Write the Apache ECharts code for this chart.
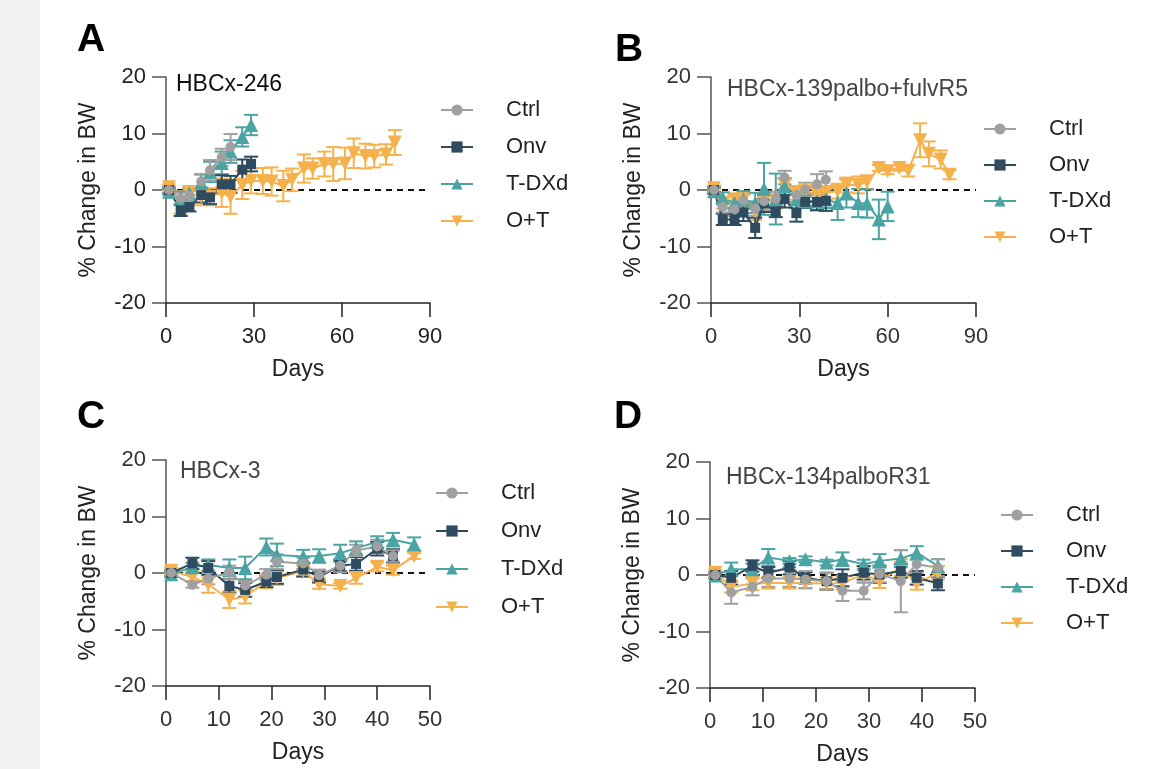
<!DOCTYPE html>
<html>
<head>
<meta charset="utf-8">
<script src="https://cdn.jsdelivr.net/npm/echarts@6/dist/echarts.min.js"></script>
<style>
html,body{margin:0;padding:0;background:#fff;}
#strip{position:absolute;left:0;top:0;width:40px;height:769px;background:#f1f1f1;}
#chart{position:absolute;left:0;top:0;width:1170px;height:769px;}
</style>
</head>
<body>
<div id="strip"></div>
<div id="chart"></div>
<script>
// ---------- data ----------
const groupNames = ['Ctrl', 'Onv', 'T-DXd', 'O+T'];
const panelLetters = ['A', 'B', 'C', 'D'];
const panelTitles = ['HBCx-246', 'HBCx-139palbo+fulvR5', 'HBCx-3', 'HBCx-134palboR31'];
const yTicks = [-20, -10, 0, 10, 20];

// Panel A
const A_days = [1,5,8,12,15,19,22,26,29,33,36,40,43,47,50,54,57,61,64,68,71,75,78];
const A_ctrl = [0,-1.5,-1.0,1.5,3.5,5.8,7.6];
const A_ctrl_err = [0.5,1.0,1.0,1.2,1.8,1.5,2.3];
const A_onv = [0,-3.6,-3.0,-0.9,-1.3,1.0,1.0,3.6,4.6];
const A_onv_err = [0.5,1.0,0.8,1.3,1.2,1.6,1.5,1.8,1.3];
const A_tdxd = [-0.3,-1.5,-0.6,1.3,3.2,4.8,6.8,9.4,11.5];
const A_tdxd_err = [0.5,1.2,1.0,1.5,1.8,2.0,2.0,1.7,1.8];
const A_ot = [0.5,-2.2,-0.5,-1.2,-1.2,-0.5,-1.2,0.9,1.6,1.6,1.5,0.7,1.8,3.8,3.8,4.6,4.6,4.7,6.5,6.0,6.0,6.3,8.4];
const A_ot_err = [0.5,2.0,1.2,1.5,1.5,2.5,3.0,2.5,2.2,2.3,2.5,2.7,2.0,2.5,1.8,2.2,3.0,2.8,2.6,2.2,2.0,1.8,2.2];

// Panel B
const B_days = [1,4,8,11,15,18,22,25,29,32,36,39,43,46,50,53,57,60,64,67,71,74,78,81];
const B_ctrl = [0,-3.0,-3.4,-1.8,-3.3,-2.0,-1.5,2.2,-0.9,0.1,1.0,1.8];
const B_ctrl_err = [0.5,1.0,1.2,1.0,1.3,1.5,1.2,1.2,1.2,1.2,1.8,1.5];
const B_onv = [0,-5.2,-5.2,-4.0,-6.7,-2.4,-3.8,-1.6,-4.1,-2.1,-2.1,-1.9];
const B_onv_err = [0.5,1.0,1.0,1.5,1.8,1.5,1.0,1.5,1.5,1.0,1.5,1.8];
const B_tdxd = [-0.2,-1.4,-2.3,-1.7,-2.3,0.2,-1.6,0.6,-1.7,-2.0,-2.0,-1.7,-2.3,-0.6,-2.3,-2.4,-5.2,-2.9];
const B_tdxd_err = [0.5,1.0,1.5,1.5,1.8,4.6,4.5,1.5,1.5,1.2,1.5,1.5,3.0,2.5,2.5,2.5,3.5,2.6];
const B_ot = [0.3,-2.3,-1.8,-1.7,-3.8,-2.2,-1.8,0.9,-0.5,-0.2,-0.8,-0.5,-0.2,0.9,0.9,1.4,3.9,3.3,3.9,3.4,8.8,6.4,5.4,2.7];
const B_ot_err = [0.5,1.0,1.2,1.2,1.5,1.5,1.5,1.0,1.2,1.0,1.2,1.2,1.3,1.3,1.5,1.2,0.5,0.5,0.5,1.0,3.0,2.2,1.6,0.8];

// Panel C
const C_days = [1,5,8,12,15,19,21,26,29,33,36,40,43,47];
const C_ctrl = [0,-2.1,-1.0,0.1,-2.2,-0.3,2.0,1.7,-0.4,1.3,4.0,4.7,3.0];
const C_ctrl_err = [0.5,0.5,1.0,1.2,0.8,1.0,1.3,1.0,1.0,1.2,1.0,1.2,1.0];
const C_onv = [0,1.7,0.9,-2.3,-3.0,-1.5,-0.7,0.6,-0.7,1.3,1.6,4.3,3.0];
const C_onv_err = [0.5,1.0,1.2,1.2,1.2,1.0,1.2,1.2,1.0,1.0,1.2,1.2,1.2];
const C_tdxd = [-0.2,1.0,1.4,0.9,0.9,4.6,3.2,2.9,3.0,3.5,4.4,5.5,5.9,5.1];
const C_tdxd_err = [0.5,0.8,1.0,1.5,2.0,1.5,2.0,1.2,1.2,1.5,1.2,1.0,1.2,1.2];
const C_ot = [0.4,-0.7,-2.0,-4.7,-4.2,-1.5,-0.9,0.3,-2.0,-2.3,-0.9,1.1,0.5,3.0];
const C_ot_err = [0.5,0.7,1.5,1.5,1.2,1.2,1.2,1.0,0.8,0.5,1.0,0.8,0.8,0.5];

// Panel D
const D_days = [1,4,8,11,15,18,22,25,29,32,36,39,43];
const D_ctrl = [0,-3.1,-2.1,-0.6,-0.6,-0.8,-1.1,-2.8,-2.8,0.2,-1.1,1.9,1.3];
const D_ctrl_err = [0.5,2.0,1.5,1.5,1.5,1.5,1.5,1.8,1.5,1.5,5.5,1.5,1.5];
const D_onv = [0,-0.5,1.6,0.4,1.3,-0.5,-1.1,-0.5,0.4,0.1,0.7,-0.5,-1.5];
const D_onv_err = [0.5,1.2,1.0,1.0,1.2,1.0,1.5,1.5,1.2,1.5,1.2,1.2,1.2];
const D_tdxd = [-0.1,1.0,1.0,3.1,2.5,2.8,2.2,2.8,1.9,2.5,2.9,3.9,1.6];
const D_tdxd_err = [0.5,1.2,1.0,1.5,0.5,0.5,0.5,1.2,0.8,1.2,1.5,1.2,1.2];
const D_ot = [0.4,-2.1,-1.5,-1.4,-1.4,-1.4,-1.5,-1.4,0.1,-1.1,1.3,-1.6,0.4];
const D_ot_err = [0.5,1.0,1.2,1.0,1.0,1.0,1.0,1.2,1.5,1.2,1.5,1.0,1.2];

const xMax = [90, 90, 50, 50];
const xInterval = [30, 30, 10, 10];

// ---------- styling ----------
const FONT = 'Liberation Sans, Arial, sans-serif';
const colors = {'Ctrl':'#a0a0a0','Onv':'#2f4b60','T-DXd':'#4aa4a3','O+T':'#f5b24c'};
const symbols = {'Ctrl':'circle','Onv':'rect','T-DXd':'triangle','O+T':'path://M0,0 L10,0 L5,10 Z'};
const symSize = {'Ctrl':10,'Onv':10,'T-DXd':14,'O+T':14};

const panels = [
  {days:A_days, data:{'Ctrl':[A_ctrl,A_ctrl_err],'Onv':[A_onv,A_onv_err],'T-DXd':[A_tdxd,A_tdxd_err],'O+T':[A_ot,A_ot_err]}},
  {days:B_days, data:{'Ctrl':[B_ctrl,B_ctrl_err],'Onv':[B_onv,B_onv_err],'T-DXd':[B_tdxd,B_tdxd_err],'O+T':[B_ot,B_ot_err]}},
  {days:C_days, data:{'Ctrl':[C_ctrl,C_ctrl_err],'Onv':[C_onv,C_onv_err],'T-DXd':[C_tdxd,C_tdxd_err],'O+T':[C_ot,C_ot_err]}},
  {days:D_days, data:{'Ctrl':[D_ctrl,D_ctrl_err],'Onv':[D_onv,D_onv_err],'T-DXd':[D_tdxd,D_tdxd_err],'O+T':[D_ot,D_ot_err]}}
];

const grids = [
  {left:166, top:77, width:264, height:226},
  {left:711, top:77, width:265, height:226},
  {left:166, top:460, width:264, height:226},
  {left:710, top:462, width:265, height:226}
];
const letterPos = [[77,21],[615,31],[77,398],[614,398]];
const subPos = [[176,73],[727,78],[180,460],[726,466]];
const legendPos = [[440,99,15],[983,118,14],[435,482,16],[1000,504,14]];
const tickColor = ['#222','#333','#333','#333'];

function errRender(color){
  return function(params, api){
    const x = api.value(0), lo = api.value(1), hi = api.value(2);
    const pt = api.coord([x, hi]), pb = api.coord([x, lo]);
    const w = 7;
    const st = {stroke: color, lineWidth: 2};
    return {type:'group', children:[
      {type:'line', shape:{x1:pt[0],y1:pt[1],x2:pb[0],y2:pb[1]}, style:st},
      {type:'line', shape:{x1:pt[0]-w,y1:pt[1],x2:pt[0]+w,y2:pt[1]}, style:st},
      {type:'line', shape:{x1:pb[0]-w,y1:pb[1],x2:pb[0]+w,y2:pb[1]}, style:st}
    ]};
  };
}

const option = {
  animation:false,
  backgroundColor:'transparent',
  textStyle:{fontFamily:FONT},
  grid: grids,
  xAxis: grids.map((g,i)=>({
    gridIndex:i, type:'value', min:0, max:xMax[i], interval:xInterval[i],
    name:'Days', nameLocation:'middle', nameGap:55,
    nameTextStyle:{fontSize:23, color:'#222', fontFamily:FONT},
    axisLine:{onZero:false, lineStyle:{color:'#222', width:1.5}},
    axisTick:{length:14, lineStyle:{color:'#222', width:1.5}},
    axisLabel:{fontSize:22, color:tickColor[i], margin:23, fontFamily:FONT},
    splitLine:{show:false}
  })),
  yAxis: grids.map((g,i)=>({
    gridIndex:i, type:'value', min:yTicks[0], max:yTicks[yTicks.length-1], interval:10,
    name:'% Change in BW', nameLocation:'middle', nameGap:66,
    nameTextStyle:{fontSize:23, color:'#222', fontFamily:FONT},
    axisLine:{show:true, lineStyle:{color:'#555', width:1.5}},
    axisTick:{show:true, length:14, lineStyle:{color:'#555', width:1.5}},
    axisLabel:{fontSize:22, color:tickColor[i], margin:20, fontFamily:FONT},
    splitLine:{show:false}
  })),
  title: panelLetters.map((L,i)=>({
    text:L, left:letterPos[i][0], top:letterPos[i][1], padding:0,
    textStyle:{fontSize:39, fontWeight:'bold', color:'#000', fontFamily:FONT}
  })).concat(panelTitles.map((t,i)=>({
    text:t, left:subPos[i][0], top:subPos[i][1], padding:0,
    textStyle:{fontSize:23, fontWeight:'normal', color: i===0 ? '#111' : '#444', fontFamily:FONT}
  }))),
  legend: legendPos.map((p,i)=>({
    data: groupNames, orient:'vertical', left:p[0], top:p[1], itemGap:p[2], padding:0,
    itemWidth:32, itemHeight:14, selectedMode:false,
    textStyle:{fontSize:22, color:'#222', fontFamily:FONT, padding:[0,0,0,28]}
  })),
  series: []
};

panels.forEach((pn, i) => {
  option.series.push({
    type:'line', name:'zero'+i, xAxisIndex:i, yAxisIndex:i, silent:true,
    data:[[0,0],[xMax[i],0]], symbol:'none',
    lineStyle:{color:'#111', width:2, type:[6,5]}, z:1
  });
  ['O+T','T-DXd','Onv','Ctrl'].forEach(g => {
    const vals = pn.data[g][0], errs = pn.data[g][1];
    const pts = vals.map((v,k)=>[pn.days[k], v]);
    const eb = vals.map((v,k)=>[pn.days[k], v-errs[k], v+errs[k]]);
    option.series.push({
      type:'custom', name:g+' err'+i, xAxisIndex:i, yAxisIndex:i, silent:true,
      renderItem: errRender(colors[g]), data: eb, encode:{x:0, y:[1,2]}, z:2
    });
    option.series.push({
      type:'line', name:g, xAxisIndex:i, yAxisIndex:i,
      data: pts, symbol: symbols[g], symbolSize: symSize[g],
      itemStyle:{color:colors[g]}, lineStyle:{color:colors[g], width:2}, z:3
    });
  });
});

const chart = echarts.init(document.getElementById('chart'), null, {renderer:'canvas'});
chart.setOption(option);
</script>
</body>
</html>
